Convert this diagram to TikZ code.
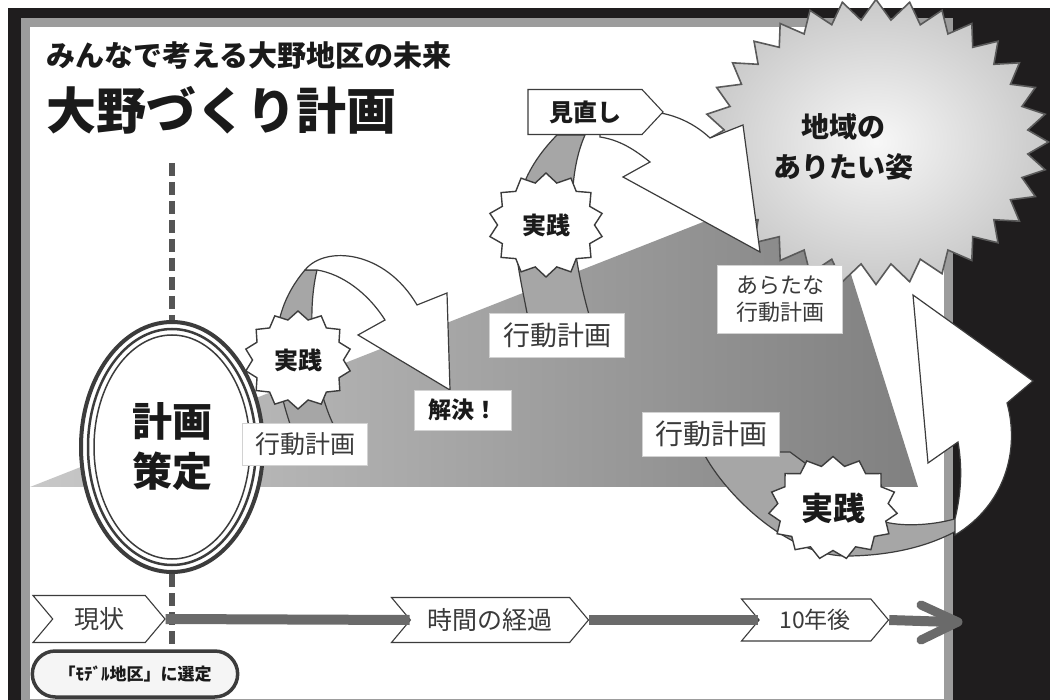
\documentclass[tikz,border=0pt]{standalone}
\usepackage{fontspec}
\setmainfont{Noto Sans CJK JP}
\usetikzlibrary{shapes.symbols,shapes.misc,shapes.geometric}
\definecolor{frameblack}{HTML}{1F1D1E}
\definecolor{panelgray}{HTML}{9C9C9C}
\definecolor{ink}{HTML}{1A1A1A}
\definecolor{txtgray}{HTML}{3A3A3A}
\definecolor{ribbon}{HTML}{A6A6A6}
\definecolor{edge}{HTML}{3C3C3C}
\definecolor{wedgeL}{HTML}{C8C8C8}
\definecolor{wedgeR}{HTML}{808080}
\definecolor{lineg}{HTML}{6A6A6A}
\definecolor{dashg}{HTML}{555555}
\definecolor{burstedge}{HTML}{5A5A5A}
\begin{document}
\begin{tikzpicture}[x=1pt,y=-1pt,
  burst/.style={starburst, random starburst=0, draw=edge, line width=1.4pt, fill=white, inner sep=0pt, text=ink},
  boxlabel/.style={rectangle, fill=white, draw=gray!35, line width=0.6pt, inner sep=0pt, text=txtgray},
  tag/.style={signal, signal to=east, signal from=west, signal pointer angle=100, draw=edge, fill=white, line width=1.1pt, inner sep=0pt, text=txtgray},
  ribbonband/.style={fill=ribbon, draw=edge, line width=1.2pt, line join=round},
  bigarrow/.style={fill=white, draw=edge, line width=1.2pt, line join=miter},
  timeline/.style={draw=lineg, line width=10pt},
  dashline/.style={draw=dashg, line width=5.5pt, dash pattern=on 13pt off 6pt}
]
\useasboundingbox (0,0) rectangle (1050,700);
\fill[white] (0,0) rectangle (1050,700);
\fill[frameblack] (8,8) rectangle (1050,700);
\draw[panelgray, line width=9pt, fill=white] (25,23) rectangle (948,703);

% growing wedge
\shade[left color=wedgeL, right color=wedgeR] (30,487) -- (820,176) -- (918,487) -- cycle;

% goal burst
\node[starburst, random starburst=0, starburst points=32, starburst point height=20pt,
      minimum width=345pt, minimum height=285pt, inner sep=0pt, draw=burstedge, line width=1.6pt,
      inner color=gray!6, outer color=gray!42] (goal) at (876,142) {};
\node[font=\bfseries\fontsize{28}{40}\selectfont, text=ink, align=center] (goaltxt) at (843,147) {地域の\\ありたい姿};

% ribbons
\path[ribbonband] (292,430) .. controls (275,380) and (262,320) .. (305,270) -- (317,270) .. controls (305,320) and (315,390) .. (336,430) -- cycle;
\path[ribbonband] (528,318) .. controls (515,250) and (498,195) .. (557,135) -- (585,135) .. controls (565,180) and (570,250) .. (590,318) -- cycle;
\path[ribbonband] (703,452) .. controls (725,495) and (790,558) .. (850,556) .. controls (900,555) and (935,543) .. (958,530) -- (958,518) .. controls (935,525) and (905,527) .. (885,522) -- (790,452) -- cycle;

% white arrows
\path[bigarrow] (305,270) .. controls (325,245) and (385,250) .. (417,305) -- (447,293) -- (450,390) -- (358,335) -- (385,320) .. controls (368,293) and (342,274) .. (317,270) -- cycle;
\path[bigarrow] (600,128) -- (653,112) .. controls (675,114) and (695,124) .. (710,138) -- (743,125) -- (760,252) -- (623,177) -- (650,162) .. controls (635,150) and (620,140) .. (600,137) -- cycle;
\path[bigarrow] (913,295) -- (1033,381) -- (1007,403) .. controls (1020,450) and (1005,505) .. (955,535) -- (955,519) .. controls (962,490) and (962,465) .. (958,442) -- (928,463) -- cycle;

% practice bursts
\node[burst, starburst points=14, starburst point height=8pt, minimum width=107pt, minimum height=98pt,
      font=\bfseries\fontsize{24}{24}\selectfont] (jissen1) at (298,360) {実践};
\node[burst, starburst points=14, starburst point height=9pt, minimum width=115pt, minimum height=104pt,
      font=\bfseries\fontsize{24}{24}\selectfont] (jissen2) at (546,225) {実践};
\node[burst, starburst points=15, starburst point height=9pt, minimum width=129pt, minimum height=103pt,
      font=\bfseries\fontsize{32}{32}\selectfont] (jissen3) at (833,508) {実践};

% ellipse and dashed line
\coordinate (dtop) at (172,163);
\coordinate (dbot) at (172,648);
\node[ellipse, minimum width=182pt, minimum height=250pt, draw=edge, line width=4pt, fill=white, inner sep=0pt,
      align=center, font=\bfseries\fontsize{40}{50}\selectfont, text=ink] (plan) at (172,447) {計画\\策定};
\draw[edge, line width=2.5pt] (plan.center) ellipse [x radius=84, y radius=118];
\draw[edge, line width=1.5pt] (plan.center) ellipse [x radius=78, y radius=112];
\draw[dashline] (dtop) -- (plan.north);
\draw[dashline] (plan.south) -- (dbot);

% labels
\node[boxlabel, minimum width=125pt, minimum height=42pt, font=\fontsize{25}{25}\selectfont] (plan1) at (305,444) {行動計画};
\node[boxlabel, minimum width=135pt, minimum height=44pt, font=\fontsize{27}{27}\selectfont] (plan2) at (557,335) {行動計画};
\node[boxlabel, minimum width=125pt, minimum height=68pt, align=center, font=\fontsize{22}{27}\selectfont] (plan3) at (780,299) {あらたな\\行動計画};
\node[boxlabel, minimum width=137pt, minimum height=44pt, font=\fontsize{28}{28}\selectfont] (plan4) at (711,434) {行動計画};
\node[boxlabel, minimum width=97pt, minimum height=40pt, text=ink, font=\bfseries\fontsize{23}{23}\selectfont] (solved) at (463,410) {解決！};
\node[tag, signal from=nowhere, signal pointer angle=94, minimum width=135pt, minimum height=45pt, text=ink,
      font=\bfseries\fontsize{24}{24}\selectfont] (review) at (585,112) {見直し};

% timeline
\coordinate (tend) at (958,622);
\node[tag, minimum width=132pt, minimum height=47pt, font=\fontsize{25}{25}\selectfont] (genjo) at (99,619) {現状};
\node[tag, minimum width=197pt, minimum height=45pt, font=\fontsize{25}{25}\selectfont] (keika) at (490,620) {時間の経過};
\node[tag, minimum width=147pt, minimum height=42pt, font=\fontsize{23}{23}\selectfont] (jyunen) at (815,620) {10年後};
\draw[timeline] (genjo.east) -- (keika.west);
\draw[timeline] (keika.east) -- (jyunen.west);
\draw[timeline] (jyunen.east) -- ([xshift=-6pt]tend);
\draw[lineg, line width=9pt, line cap=round, line join=round] ([shift={(-37,-17)}]tend) -- (tend) -- ([shift={(-37,18)}]tend);

% model district
\node[rounded rectangle, draw=edge, line width=3.5pt, fill=gray!8, minimum width=212pt, minimum height=46pt,
      font=\bfseries\fontsize{17}{17}\selectfont, text=ink] (model) at (135,674) {「ﾓﾃﾞﾙ地区」に選定};

% titles
\node[anchor=west, inner sep=0pt, font=\bfseries\fontsize{29}{29}\selectfont, text=ink] (subtitle) at (46,55) {みんなで考える大野地区の未来};
\node[anchor=west, inner sep=0pt, font=\bfseries\fontsize{50}{50}\selectfont, text=ink] (title) at (46,110) {大野づくり計画};
\end{tikzpicture}
\end{document}
